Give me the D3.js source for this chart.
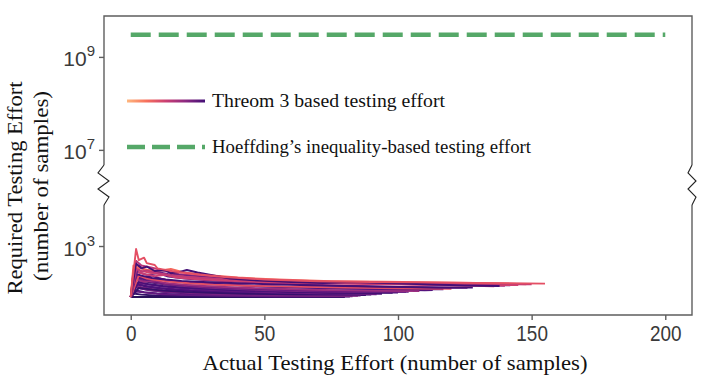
<!DOCTYPE html>
<html>
<meta charset="utf-8">
<style>
body { margin: 0; background: #fff; }
svg { display: block; }
.spine { stroke: #5e5e5e; stroke-width: 1.4; fill: none; }
.tick line { stroke: #5e5e5e; stroke-width: 1.4; }
.domain { display: none; }
.tick text { font-family: "Liberation Sans", Arial, sans-serif; fill: #3a3a3a; }
.lbl { font-family: "Liberation Serif", "Times New Roman", serif; fill: #111; }
</style>
<body>
<svg id="chart" width="711" height="379"></svg>

<script src="https://cdn.jsdelivr.net/npm/d3@7"></script>
<script>
// tick values
var xTicks = [0, 50, 100, 150, 200];
var topTicks = [1e7, 1e9];
var lowTicks = [1e3];

// Hoeffding bound (constant)
var hoeffX = [0, 200];
var hoeffY = [3.0e9, 3.0e9];

// Theorem 3 runs: [actual effort, required effort]
var runs = [
	[[0,80],[2,250],[5,210],[8,230],[12,190],[18,170],[25,160],[35,150],[50,135],[70,125],[90,118],[110,112],[113,113]],
	[[0,80],[80,80]],
	[[0,80],[1,115],[5,102],[10,95],[18,90],[30,86],[45,83],[60,81],[80,80]],
	[[0,80],[2,130],[6,115],[12,104],[20,96],[32,90],[48,86],[68,83],[82,82]],
	[[0,80],[1,95],[4,90],[9,86],[16,84],[28,82],[44,81],[80,80]],
	[[0,80],[2,105],[6,98],[12,92],[22,88],[36,85],[54,83],[83,83]],
	[[0,80],[1,150],[4,130],[8,120],[14,110],[22,102],[34,95],[50,90],[70,86],[85,85]],
	[[0,80],[2,160],[5,140],[10,125],[16,115],[25,106],[38,98],[55,92],[75,88],[88,88]],
	[[0,80],[1,140],[3,125],[7,112],[13,104],[22,97],[33,92],[48,88],[66,86],[86,86]],
	[[0,80],[3,125],[7,118],[12,110],[20,103],[30,98],[44,94],[62,91],[90,90]],
	[[0,80],[2,150],[6,135],[11,125],[17,118],[26,110],[38,104],[54,98],[72,95],[94,94]],
	[[0,80],[1,180],[3,160],[6,150],[10,140],[16,128],[24,118],[35,110],[50,102],[70,96],[92,92]],
	[[0,80],[2,200],[5,175],[9,160],[15,145],[22,135],[30,125],[42,115],[58,105],[75,100],[98,98]],
	[[0,80],[3,170],[7,150],[12,138],[19,128],[28,120],[40,112],[56,106],[76,101],[100,100]],
	[[0,80],[1,205],[4,185],[8,168],[13,150],[20,138],[30,126],[44,116],[62,108],[84,104],[103,103]],
	[[0,80],[1,220],[4,200],[7,180],[11,165],[16,150],[24,140],[33,130],[48,120],[65,112],[85,106],[104,104]],
	[[0,80],[2,190],[5,170],[9,180],[13,160],[19,148],[27,138],[39,128],[54,120],[72,113],[92,109],[108,108]],
	[[0,80],[2,230],[6,190],[11,200],[15,175],[22,160],[32,148],[46,138],[62,130],[82,122],[102,117],[117,117]],
	[[0,80],[3,230],[6,200],[10,185],[15,170],[22,158],[31,148],[44,140],[60,134],[80,128],[100,123],[120,120]],
	[[0,80],[1,300],[3,270],[6,240],[10,260],[14,220],[20,200],[30,180],[45,165],[60,152],[80,140],[100,132],[120,127],[126,126]],
	[[0,80],[1,260],[4,230],[8,205],[13,190],[19,178],[27,168],[40,158],[56,148],[75,140],[95,133],[115,128],[128,128]],
	[[0,80],[2,280],[5,250],[9,225],[13,240],[17,210],[24,195],[34,180],[48,168],[66,160],[88,152],[110,146],[132,138],[136,136]],
	[[0,80],[2,480],[4,380],[8,340],[12,300],[18,250],[25,230],[35,205],[50,185],[65,172],[85,160],[105,150],[125,142],[140,140]],
	[[0,80],[3,380],[5,310],[9,280],[14,250],[19,235],[26,215],[36,195],[50,180],[68,168],[88,160],[108,152],[128,145],[142,142]],
	[[0,80],[2,340],[4,290],[7,270],[11,250],[16,230],[21,215],[28,200],[38,185],[52,172],[70,162],[90,155],[110,150],[130,146],[145,145]],
	[[0,80],[1,380],[3,340],[6,310],[10,290],[15,320],[20,270],[28,240],[40,210],[55,190],[75,175],[95,170],[115,165],[135,158],[148,150]],
	[[0,80],[2,320],[4,280],[6,300],[10,260],[14,240],[20,220],[27,205],[36,192],[48,180],[64,170],[84,163],[104,158],[124,153],[150,150]],
	[[0,80],[2,420],[4,330],[6,360],[9,290],[13,300],[15,260],[18,275],[21,305],[25,270],[30,240],[37,200],[45,185],[50,178],[60,168],[72,160],[83,168],[95,160],[110,150],[125,141],[138,138]],
	[[0,80],[2,860],[3,500],[5,560],[6,430],[9,390],[10,330],[14,300],[17,280],[24,250],[35,215],[50,190],[70,175],[90,168],[110,165],[130,160],[155,155]]
];
// colour position of each run on the magma map
var runShade = [0.26, 0.16, 0.24, 0.20, 0.18, 0.30, 0.40, 0.22, 0.34, 0.19, 0.24, 0.30, 0.18, 0.23, 0.36, 0.28, 0.44, 0.27, 0.62, 0.31, 0.22, 0.55, 0.50, 0.33, 0.58, 0.68, 0.52, 0.22, 0.62];

var svg = d3.select("#chart");
var L = 104, R = 692, T = 16, topB = 168, lowT = 200, B = 315;

var x = d3.scaleLinear().domain([-10, 210]).range([L, R]);
var yTop = d3.scaleLog().domain([Math.pow(10, 6.61), Math.pow(10, 9.88)]).range([topB, T]);
var yLow = d3.scaleLog().domain([Math.pow(10, 1.516), Math.pow(10, 3.99)]).range([B, lowT]);

// spines with break marks
svg.append("path").attr("class", "spine")
	.attr("d", "M" + L + ",165V" + T + "H" + R + "V165");
svg.append("path").attr("class", "spine")
	.attr("d", "M" + L + ",205V" + B + "H" + R + "V205");
svg.append("path").attr("class", "spine").style("stroke", "#222").style("stroke-width", 1.1)
	.attr("d", "M104,165L98,173L109,181L98,189L109,197L104,205");
svg.append("path").attr("class", "spine").style("stroke", "#222").style("stroke-width", 1.1)
	.attr("d", "M692,165L688,173L696,181L688,189L696,197L692,205");

// axes
function supLabels(g) {
	g.selectAll(".tick text").each(function(d) {
		var t = d3.select(this).text(null)
			.attr("x", -9).attr("dy", null).attr("y", 9)
			.style("font-size", "21px").attr("text-anchor", "end");
		t.append("tspan").text("10");
		t.append("tspan").attr("dy", -10).style("font-size", "15px")
			.text(Math.round(Math.log10(d)));
	});
}
svg.append("g").attr("transform", "translate(" + L + ",0)")
	.call(d3.axisLeft(yTop).tickValues(topTicks).tickSize(5).tickPadding(4))
	.call(supLabels);
svg.append("g").attr("transform", "translate(" + L + ",0)")
	.call(d3.axisLeft(yLow).tickValues(lowTicks).tickSize(5).tickPadding(4))
	.call(supLabels);
var xa = svg.append("g").attr("transform", "translate(0," + B + ")")
	.call(d3.axisBottom(x).tickValues(xTicks).tickSize(5).tickPadding(5));
xa.selectAll(".tick text").style("font-size", "22px").attr("transform", "scale(0.86,1)");

// runs
var line = d3.line().x(function(d) { return x(d[0]); }).y(function(d) { return yLow(d[1]); });
svg.append("g").selectAll("path").data(runs).enter().append("path")
	.attr("d", line)
	.attr("fill", "none")
	.attr("stroke", function(d, i) { return d3.interpolateMagma(runShade[i]); })
	.attr("stroke-width", 1.9)
	.attr("stroke-linejoin", "round");

// Hoeffding line
var green = "#55a868";
svg.append("path")
	.datum(d3.zip(hoeffX, hoeffY))
	.attr("d", d3.line().x(function(d) { return x(d[0]); }).y(function(d) { return yTop(d[1]); }))
	.attr("stroke", green).attr("stroke-width", 4.5)
	.attr("stroke-dasharray", "20,8").attr("fill", "none");

// legend
var grad = svg.append("defs").append("linearGradient").attr("id", "mg");
[0.85, 0.7, 0.55, 0.4, 0.22].forEach(function(v, i) {
	grad.append("stop").attr("offset", (i / 4 * 100) + "%").attr("stop-color", d3.interpolateMagma(v));
});
svg.append("rect").attr("x", 127).attr("y", 99.5).attr("width", 78).attr("height", 3).attr("fill", "url(#mg)");
svg.append("line").attr("x1", 127).attr("x2", 205).attr("y1", 147).attr("y2", 147)
	.attr("stroke", green).attr("stroke-width", 4.5).attr("stroke-dasharray", "18,7");

svg.append("text").attr("class", "lbl").attr("x", 212).attr("y", 107)
	.style("font-size", "19px").attr("textLength", 233).attr("lengthAdjust", "spacingAndGlyphs")
	.text("Threom 3 based testing effort");
svg.append("text").attr("class", "lbl").attr("x", 212).attr("y", 153)
	.style("font-size", "19px").attr("textLength", 319).attr("lengthAdjust", "spacingAndGlyphs")
	.text("Hoeffding\u2019s inequality-based testing effort");

// axis titles
svg.append("text").attr("class", "lbl").attr("x", 395).attr("y", 370)
	.attr("text-anchor", "middle").style("font-size", "22px")
	.attr("textLength", 385).attr("lengthAdjust", "spacingAndGlyphs")
	.text("Actual Testing Effort (number of samples)");
svg.append("text").attr("class", "lbl").attr("transform", "translate(22,188) rotate(-90)")
	.attr("text-anchor", "middle").style("font-size", "22px")
	.attr("textLength", 213).attr("lengthAdjust", "spacingAndGlyphs")
	.text("Required Testing Effort");
svg.append("text").attr("class", "lbl").attr("transform", "translate(48,186) rotate(-90)")
	.attr("text-anchor", "middle").style("font-size", "22px")
	.attr("textLength", 190).attr("lengthAdjust", "spacingAndGlyphs")
	.text("(number of samples)");
</script>
</body>
</html>
